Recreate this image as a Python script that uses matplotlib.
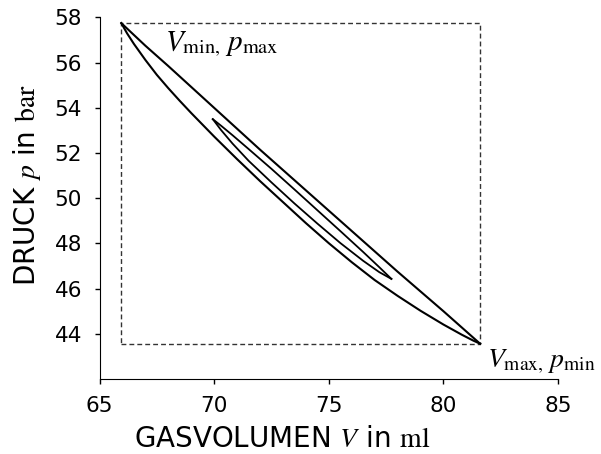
import matplotlib as mpl
import matplotlib.pyplot as plt

mpl.rcParams["font.family"] = ["DejaVu Sans"]
mpl.rcParams["mathtext.fontset"] = "stix"

# outer loop (V in ml, p in bar)
outer_upper_V = [65.95, 67.0, 68.0, 70.0, 72.0, 74.0, 76.0, 78.0, 80.0, 81.0, 81.6]
outer_upper_p = [57.75, 56.75, 55.85, 54.0, 52.15, 50.35, 48.55, 46.75, 45.0, 44.1, 43.56]
outer_lower_V = [65.95, 66.2, 66.5, 67.0, 67.5, 68.0, 68.5, 69.0, 70.0, 71.0, 72.0, 73.0,
                 74.0, 75.0, 76.0, 77.0, 78.0, 79.0, 80.0, 80.8, 81.3, 81.6]
outer_lower_p = [57.75, 57.30, 56.83, 56.12, 55.46, 54.87, 54.31, 53.77, 52.73, 51.73, 50.76, 49.83,
                 48.90, 48.01, 47.17, 46.38, 45.68, 45.02, 44.41, 43.96, 43.70, 43.56]

# inner loop
inner_upper_V = [69.94, 70.3, 70.8, 71.5, 72.5, 73.5, 74.5, 75.5, 76.5, 77.2, 77.73]
inner_upper_p = [53.50, 53.21, 52.79, 52.18, 51.30, 50.39, 49.47, 48.55, 47.62, 46.95, 46.43]
inner_lower_V = [69.94, 70.3, 70.8, 71.5, 72.5, 73.5, 74.5, 75.5, 76.5, 77.2, 77.73]
inner_lower_p = [53.50, 53.02, 52.42, 51.66, 50.70, 49.77, 48.88, 48.02, 47.23, 46.73, 46.43]

V_min, V_max = 65.95, 81.6
p_min, p_max = 43.56, 57.75

fig = plt.figure(figsize=(6.01, 4.54), dpi=100)
ax = fig.add_axes([0.1656, 0.1652, 0.763, 0.7963])

# dashed bounding box
ax.plot([V_min, V_max, V_max, V_min, V_min], [p_min, p_min, p_max, p_max, p_min],
        color="#333333", lw=1.0, dashes=(3.5, 2.2))

ax.plot(outer_upper_V, outer_upper_p, color="black", lw=1.5)
ax.plot(outer_lower_V, outer_lower_p, color="black", lw=1.5)
ax.plot(inner_upper_V, inner_upper_p, color="black", lw=1.3)
ax.plot(inner_lower_V, inner_lower_p, color="black", lw=1.3)

ax.text(67.86, 56.56, r"$V_{\mathrm{min},}\,p_{\mathrm{max}}$", fontsize=21)
ax.text(81.9, 42.5, r"$V_{\mathrm{max},}\,p_{\mathrm{min}}$", fontsize=20, clip_on=False)

ax.set_xlim(65, 85)
ax.set_ylim(42, 58)
ax.set_xticks([65, 70, 75, 80, 85])
ax.set_yticks([44, 46, 48, 50, 52, 54, 56, 58])
ax.tick_params(labelsize=15.5, length=3.5, width=1, direction="out", pad=9)

ax.spines["top"].set_visible(False)
ax.spines["right"].set_visible(False)

ax.set_xlabel(r"GASVOLUMEN $V$ in $\mathrm{ml}$", fontsize=20, va="baseline")
ax.xaxis.set_label_coords(0.398, -0.188)
ax.set_ylabel(r"DRUCK $p$ in $\mathrm{bar}$", fontsize=20, va="baseline")
ax.yaxis.set_label_coords(-0.1407, 0.535)

fig.savefig("out.png", dpi=100)
